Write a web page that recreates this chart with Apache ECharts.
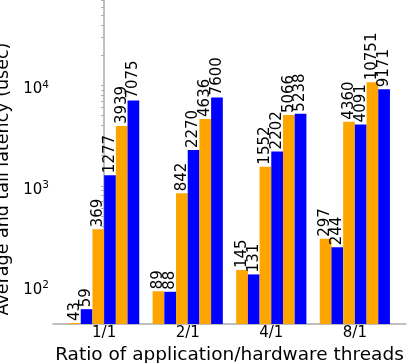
<!DOCTYPE html>
<html>
<head>
<meta charset="utf-8">
<script src="https://cdn.jsdelivr.net/npm/echarts@6/dist/echarts.min.js"></script>
<style>
  html, body { margin: 0; padding: 0; background: #fff; }
  #chart { width: 407px; height: 363px; }
</style>
</head>
<body>
<div id="chart"></div>
<script>
// groups on the x axis
const ratios = ['1/1', '2/1', '4/1', '8/1']

// six bars per group, alternating orange / blue
const seriesNames = ['avg-1', 'tail-1', 'avg-2', 'tail-2', 'avg-3', 'tail-3']
const seriesColors = ['#FFA500', '#0000FF', '#FFA500', '#0000FF', '#FFA500', '#0000FF']
const latency1 = [43, 89, 145, 297]
const latency2 = [59, 88, 131, 244]
const latency3 = [369, 842, 1552, 4360]
const latency4 = [1277, 2270, 2202, 4091]
const latency5 = [3939, 4636, 5066, 10751]
const latency6 = [7075, 7600, 5238, 9171]
const allLatency = [latency1, latency2, latency3, latency4, latency5, latency6]

// y tick labels (powers of ten) and minor ticks
const yMajor = [100, 1000, 10000]
const yMinor = [50, 60, 70, 80, 90, 200, 300, 400, 500, 600, 700, 800, 900,
  2000, 3000, 4000, 5000, 6000, 7000, 8000, 9000, 20000, 30000, 40000, 50000, 60000, 70000]

const font = 'DejaVu Sans'
const chart = echarts.init(document.getElementById('chart'))

const series = allLatency.map((vals, i) => ({
  name: seriesNames[i],
  type: 'bar',
  barWidth: '14%',
  barGap: '0%',
  itemStyle: { color: seriesColors[i] },
  label: {
    show: true,
    position: 'top',
    rotate: 90,
    align: 'left',
    verticalAlign: 'middle',
    distance: 2,
    color: '#000',
    fontFamily: font,
    fontSize: 15,
    formatter: p => String(p.value[1])
  },
  data: vals.map((v, k) => [k, v])
}))

const option = {
  animation: false,
  grid: { left: 53, right: 1, top: 0, bottom: 39, containLabel: false, outerBoundsMode: 'none' },
  xAxis: {
    type: 'value',
    min: -0.612,
    max: 3.612,
    name: 'Ratio of application/hardware threads',
    nameLocation: 'middle',
    nameGap: 17,
    nameTextStyle: { fontFamily: font, fontSize: 18.5, color: '#000' },
    splitLine: { show: false },
    axisLine: { lineStyle: { color: '#aaa', width: 1.5 } },
    axisTick: { show: false },
    axisLabel: {
      customValues: [0, 1, 2, 3],
      formatter: v => ratios[Math.round(v)],
      fontFamily: font,
      fontSize: 15,
      color: '#000',
      margin: 2
    }
  },
  yAxis: {
    type: 'log',
    min: 42,
    max: 71000,
    name: 'Average and tail latency (usec)',
    nameLocation: 'middle',
    nameGap: 35,
    // right padding pushes the rotated title a little lower, as in the original
    nameTextStyle: { fontFamily: font, fontSize: 17.5, color: '#000', padding: [0, 34, 0, 0] },
    splitLine: { show: false },
    axisLine: { show: true, lineStyle: { color: '#aaa', width: 1.5 } },
    axisTick: {
      show: true,
      length: 3,
      customValues: yMajor.concat(yMinor),
      lineStyle: { color: '#aaa' }
    },
    axisLabel: {
      customValues: yMajor,
      margin: 4,
      padding: [8, 0, 0, 0],
      formatter: v => '{b|10}{s|' + Math.round(Math.log10(v)) + '}',
      rich: {
        b: { fontFamily: font, fontSize: 15, color: '#000' },
        s: { fontFamily: font, fontSize: 10.5, color: '#000', padding: [0, 0, 9, 0] }
      }
    }
  },
  series
}

chart.setOption(option)
</script>
</body>
</html>
